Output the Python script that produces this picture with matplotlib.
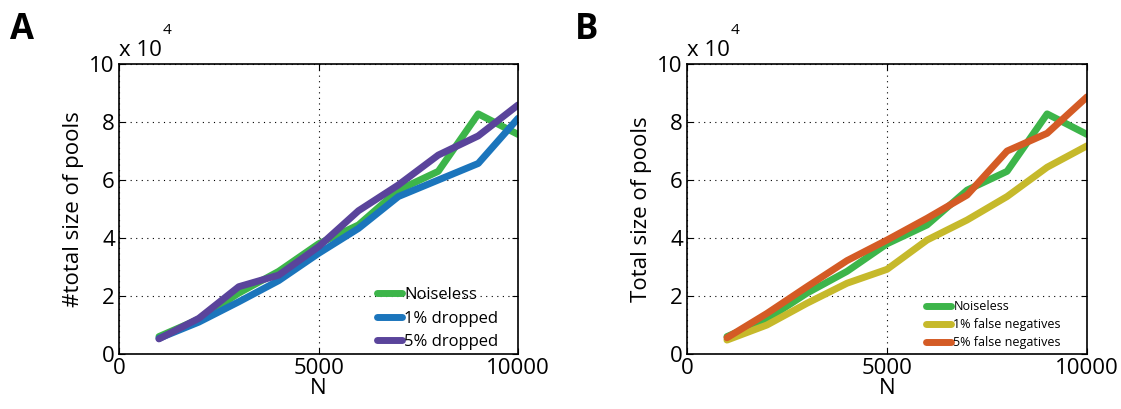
import matplotlib
matplotlib.use("Agg")
import matplotlib.pyplot as plt

plt.rcParams['font.family'] = ['Open Sans', 'DejaVu Sans']

N = [1000, 2000, 3000, 4000, 5000, 6000, 7000, 8000, 9000, 10000]

# total size of pools, in units of 10^4
noiseless = [0.60, 1.20, 2.10, 2.85, 3.80, 4.45, 5.65, 6.30, 8.28, 7.57]
dropped_1 = [0.54, 1.10, 1.80, 2.53, 3.47, 4.33, 5.43, 6.00, 6.57, 8.13]
dropped_5 = [0.52, 1.23, 2.32, 2.72, 3.70, 4.94, 5.83, 6.86, 7.52, 8.59]
falseneg_1 = [0.48, 1.00, 1.75, 2.44, 2.92, 3.93, 4.62, 5.43, 6.44, 7.18]
falseneg_5 = [0.56, 1.40, 2.32, 3.22, 3.93, 4.68, 5.48, 7.00, 7.61, 8.87]

green = "#3db54a"
blue = "#1b75bc"
purple = "#5a449b"
yellow = "#c6b92b"
orange = "#d45b25"

fig = plt.figure(figsize=(11.21, 4.09), dpi=100)
axA = fig.add_axes([0.1062, 0.1345, 0.356, 0.709])
axB = fig.add_axes([0.6128, 0.1345, 0.357, 0.709])

lw = 5
axA.plot(N, noiseless, color=green, lw=lw, label="Noiseless", solid_capstyle="round")
axA.plot(N, dropped_1, color=blue, lw=lw, label="1% dropped", solid_capstyle="round")
axA.plot(N, dropped_5, color=purple, lw=lw, label="5% dropped", solid_capstyle="round")

axB.plot(N, noiseless, color=green, lw=lw, label="Noiseless", solid_capstyle="round")
axB.plot(N, falseneg_1, color=yellow, lw=lw, label="1% false negatives", solid_capstyle="round")
axB.plot(N, falseneg_5, color=orange, lw=lw, label="5% false negatives", solid_capstyle="round")

for ax, ylab in [(axA, "#total size of pools"), (axB, "Total size of pools")]:
    ax.set_xlim(0, 10000)
    ax.set_ylim(0, 10)
    ax.set_xticks([0, 5000, 10000])
    ax.set_yticks([0, 2, 4, 6, 8, 10])
    ax.grid(True, color="black", linestyle=(0, (1, 4)), linewidth=0.8)
    ax.tick_params(direction="in", top=True, right=True, labelsize=16, length=4, pad=3)
    ax.set_xlabel("N", fontsize=16, labelpad=-1)
    ax.set_ylabel(ylab, fontsize=16, labelpad=4)
    for s in ax.spines.values():
        s.set_linewidth(1.2)
    ax.text(0.0, 1.01, "x 10", transform=ax.transAxes, fontsize=16, va="bottom", ha="left")
    ax.text(0.11, 1.09, "4", transform=ax.transAxes, fontsize=11, va="bottom", ha="left")

axA.legend(loc="lower right", bbox_to_anchor=(0.967, -0.01), frameon=False, fontsize=12,
           handlelength=1.5, handletextpad=0.1, labelspacing=0.45, borderaxespad=0.0)
axB.legend(loc="lower right", bbox_to_anchor=(0.947, 0.0), frameon=False, fontsize=9,
           handlelength=2.0, handletextpad=0.2, labelspacing=0.4, borderaxespad=0.0)

fig.text(0.009, 0.905, "A", fontsize=25, fontweight="bold")
fig.text(0.513, 0.905, "B", fontsize=25, fontweight="bold")

fig.savefig("out.png", dpi=100)
